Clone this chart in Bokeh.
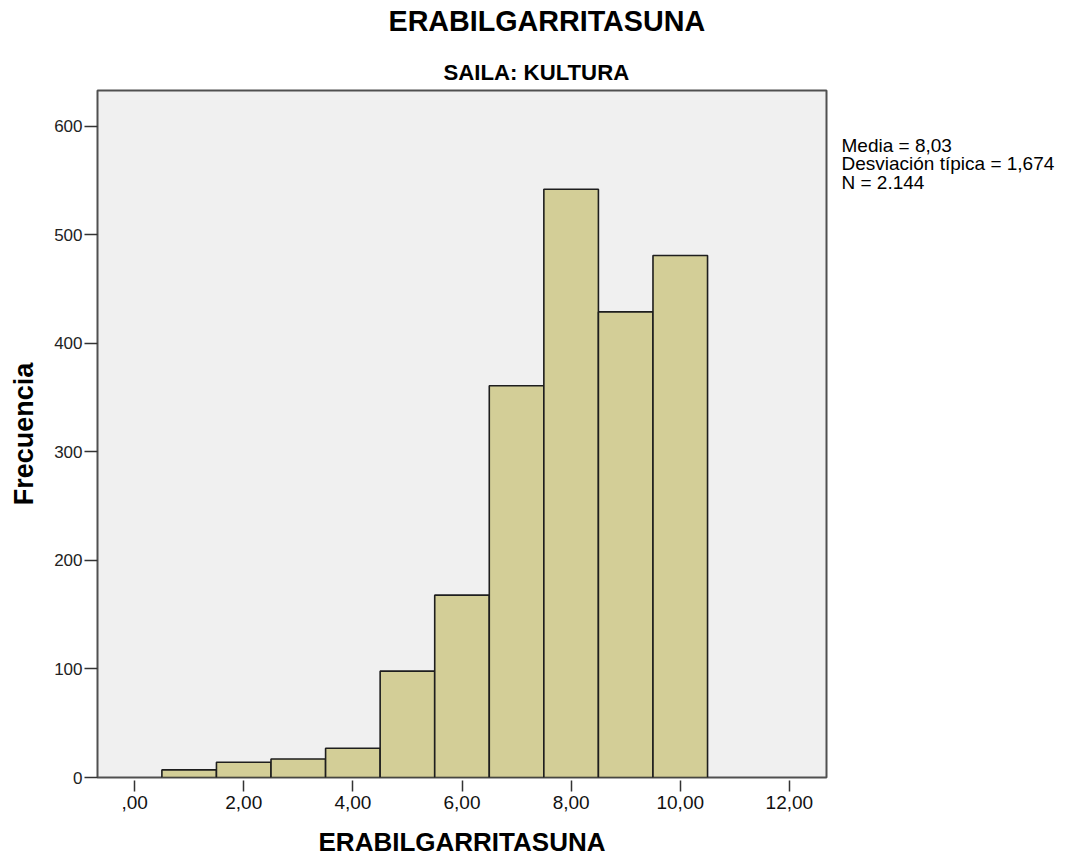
from bokeh.plotting import figure
from bokeh.models import FixedTicker, Range1d, ColumnDataSource, Title
from bokeh.layouts import row
from bokeh.core.properties import value
from bokeh.embed import file_html
from bokeh.resources import INLINE

# ---- data ----
bin_edges = [0.5, 1.5, 2.5, 3.5, 4.5, 5.5, 6.5, 7.5, 8.5, 9.5, 10.5]
counts = [7, 14, 17, 27, 98, 168, 361, 542, 429, 481]
x_ticks = [0, 2, 4, 6, 8, 10, 12]
x_tick_labels = [",00", "2,00", "4,00", "6,00", "8,00", "10,00", "12,00"]
y_ticks = [0, 100, 200, 300, 400, 500, 600]
stats_lines = ["Media = 8,03", "Desviación típica = 1,674", "N = 2.144"]
title_text = "ERABILGARRITASUNA"
subtitle_text = "SAILA: KULTURA"
x_label = "ERABILGARRITASUNA"
y_label = "Frecuencia"

FONT = "Liberation Sans"

src = ColumnDataSource(dict(left=bin_edges[:-1], right=bin_edges[1:],
                            top=counts, bottom=[0] * len(counts)))

p = figure(width=828, height=860, output_backend="svg", toolbar_location=None,
           title=None,
           x_range=Range1d(-0.68, 12.68), y_range=Range1d(0, 633),
           min_border_left=97, min_border_right=2, min_border_top=90,
           min_border_bottom=83)

p.background_fill_color = "#f0f0f0"
p.border_fill_color = "white"
p.outline_line_color = "#505050"
p.outline_line_width = 2
p.xgrid.visible = False
p.ygrid.visible = False

p.quad(left="left", right="right", top="top", bottom="bottom", source=src,
       fill_color="#d3ce97", line_color="#1e1e1e", line_width=1.6)

# axes
xa = p.xaxis[0]
xa.ticker = FixedTicker(ticks=x_ticks)
xa.major_label_overrides = {t: l for t, l in zip(x_ticks, x_tick_labels)}
xa.axis_line_color = None
xa.major_tick_in = -3
xa.major_tick_out = 14
xa.major_tick_line_color = "#333333"
xa.major_tick_line_width = 1.5
xa.minor_tick_line_color = None
xa.major_label_text_font = FONT
xa.major_label_text_font_size = "19px"
xa.major_label_text_color = "#111111"
xa.major_label_standoff = 4
xa.axis_label = x_label
xa.axis_label_text_font = FONT
xa.axis_label_text_font_style = "bold"
xa.axis_label_text_font_size = "26px"
xa.axis_label_text_color = "black"
xa.axis_label_standoff = 15

ya = p.yaxis[0]
ya.ticker = FixedTicker(ticks=y_ticks)
ya.axis_line_color = None
ya.major_tick_in = 0
ya.major_tick_out = 13
ya.major_tick_line_color = "#333333"
ya.major_tick_line_width = 1.5
ya.minor_tick_line_color = None
ya.major_label_text_font = FONT
ya.major_label_text_font_size = "17px"
ya.major_label_text_color = "#222222"
ya.major_label_standoff = 2
ya.axis_label = y_label
ya.axis_label_text_font = FONT
ya.axis_label_text_font_style = "bold"
ya.axis_label_text_font_size = "27px"
ya.axis_label_text_color = "black"
ya.axis_label_standoff = 12

# titles: first added sits nearest the frame
p.add_layout(Title(text=subtitle_text, align="left", offset=346, standoff=11,
                   text_font=FONT, text_font_style="bold", text_font_size="22.2px",
                   text_color="black"), "above")
# spacer between subtitle and main title
p.add_layout(Title(text=" ", align="left", offset=0, standoff=13,
                   text_font=FONT, text_font_size="1px", text_color="white"), "above")
p.add_layout(Title(text=title_text, align="left", offset=291, standoff=0,
                   text_font=FONT, text_font_style="bold", text_font_size="28.7px",
                   text_color="black"), "above")

# side panel with the statistics text (frame aligned with the main frame: 90..777 px)
p2 = figure(width=238, height=860, output_backend="svg", toolbar_location=None,
            x_range=Range1d(0, 238), y_range=Range1d(777, 90),
            x_axis_location=None, y_axis_location=None,
            min_border=0)
p2.outline_line_color = None
p2.background_fill_color = "white"
p2.border_fill_color = "white"
p2.xgrid.visible = False
p2.ygrid.visible = False
stats_src = ColumnDataSource(dict(x=[13, 13, 13], y=[145, 163.3, 181.7], text=stats_lines))
p2.text(x="x", y="y", text="text", source=stats_src, text_align="left",
        text_baseline="alphabetic", text_font=value(FONT), text_font_size="19px",
        text_color="black")

layout = row(p, p2)
open("out.html", "w").write(file_html(layout, INLINE))
